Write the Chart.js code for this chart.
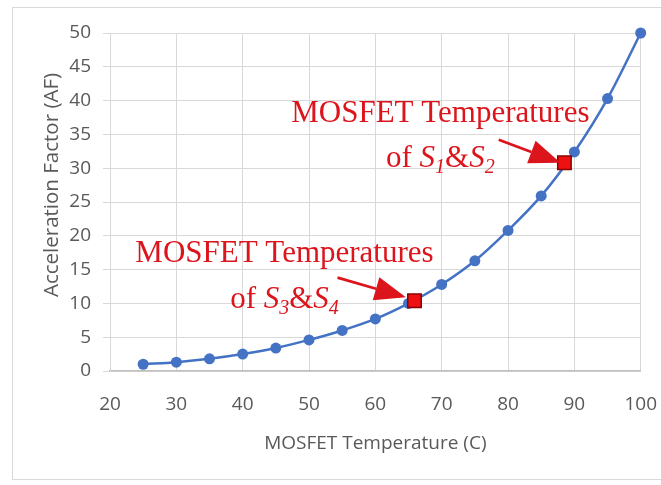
<!DOCTYPE html>
<html>
<head>
<meta charset="utf-8">
<script src="https://cdn.jsdelivr.net/npm/chart.js@4.4.1/dist/chart.umd.min.js"></script>
<style>
  html, body { margin: 0; padding: 0; background: #fff; }
  #wrap { position: relative; width: 661px; height: 485px; }
</style>
</head>
<body>
<div id="wrap"><canvas id="af-chart" width="661" height="485"></canvas></div>
<script>
// temperatures (C) and acceleration factors
const temps = [25, 30, 35, 40, 45, 50, 55, 60, 65, 70, 75, 80, 85, 90, 95, 100];
const afValues = [1.0, 1.3, 1.8, 2.5, 3.4, 4.6, 6.0, 7.7, 10.0, 12.8, 16.3, 20.8, 25.9, 32.4, 40.3, 50.0];

// the two marked MOSFET operating points (S3&S4, S1&S2)
const markTemps = [65.9, 88.5];
const markValues = [10.4, 30.8];

const xTicks = [20, 30, 40, 50, 60, 70, 80, 90, 100];
const yTicks = [0, 5, 10, 15, 20, 25, 30, 35, 40, 45, 50];

const yTitle = "Acceleration Factor (AF)";
const xTitle = "MOSFET Temperature (C)";

const gridColor = "#d9d9d9";
const textGray = "#595959";
const red = "#dc141c";

// annotation blocks, placed in data units
const notes = [
  { x: 69.8, y1: 36.8, y2: 30.2, sub1: "1", sub2: "2",
    arrowFrom: [78.6, 34.2], arrowTo: [87.9, 30.8] },
  { x: 46.3, y1: 16.1, y2: 9.3, sub1: "3", sub2: "4",
    arrowFrom: [54.3, 13.8], arrowTo: [64.6, 10.9] }
];

const annotationPlugin = {
  id: "annotations",
  beforeDraw(chart) {
    const ctx = chart.ctx;
    ctx.save();
    // outer frame
    ctx.strokeStyle = gridColor;
    ctx.lineWidth = 1;
    ctx.strokeRect(12.5, 7.5, 670, 472);
    // y axis title (sits a bit above the axis centre in the original)
    ctx.fillStyle = textGray;
    ctx.font = "20.5px 'Open Sans', sans-serif";
    ctx.textAlign = "center";
    ctx.textBaseline = "middle";
    ctx.translate(52, 185);
    ctx.rotate(-Math.PI / 2);
    ctx.fillText(yTitle, 0, 0);
    ctx.restore();
  },
  afterDatasetsDraw(chart) {
    const ctx = chart.ctx;
    const xs = chart.scales.x, ys = chart.scales.y;
    ctx.save();
    ctx.fillStyle = red;
    ctx.strokeStyle = red;
    ctx.textBaseline = "alphabetic";

    notes.forEach((n) => {
      const cx = xs.getPixelForValue(n.x);

      // first line
      ctx.font = "31px 'Liberation Serif', 'Times New Roman', serif";
      ctx.textAlign = "center";
      ctx.fillText("MOSFET Temperatures", cx, ys.getPixelForValue(n.y1));

      // second line: of S_a&S_b with italic S and subscripts
      const parts = [
        { t: "of ", f: "31px 'Liberation Serif', serif", dy: 0 },
        { t: "S", f: "italic 31px 'Liberation Serif', serif", dy: 0 },
        { t: n.sub1, f: "italic 20px 'Liberation Serif', serif", dy: 6 },
        { t: "&", f: "31px 'Liberation Serif', serif", dy: 0 },
        { t: "S", f: "italic 31px 'Liberation Serif', serif", dy: 0 },
        { t: n.sub2, f: "italic 20px 'Liberation Serif', serif", dy: 6 }
      ];
      let total = 0;
      parts.forEach((p) => { ctx.font = p.f; p.w = ctx.measureText(p.t).width; total += p.w; });
      let px = cx - total / 2;
      const by = ys.getPixelForValue(n.y2);
      ctx.textAlign = "left";
      parts.forEach((p) => {
        ctx.font = p.f;
        ctx.fillText(p.t, px, by + p.dy);
        px += p.w;
      });

      // arrow
      const x0 = xs.getPixelForValue(n.arrowFrom[0]), y0 = ys.getPixelForValue(n.arrowFrom[1]);
      const x1 = xs.getPixelForValue(n.arrowTo[0]), y1 = ys.getPixelForValue(n.arrowTo[1]);
      const ang = Math.atan2(y1 - y0, x1 - x0);
      const headLen = 31, headHalf = 12;
      const bx = x1 - headLen * Math.cos(ang), byy = y1 - headLen * Math.sin(ang);
      ctx.lineWidth = 2.8;
      ctx.beginPath();
      ctx.moveTo(x0, y0);
      ctx.lineTo(bx, byy);
      ctx.stroke();
      ctx.beginPath();
      ctx.moveTo(x1, y1);
      ctx.lineTo(bx + headHalf * Math.sin(ang), byy - headHalf * Math.cos(ang));
      ctx.lineTo(bx - headHalf * Math.sin(ang), byy + headHalf * Math.cos(ang));
      ctx.closePath();
      ctx.fill();
    });
    ctx.restore();
  }
};

const ctx = document.getElementById("af-chart").getContext("2d");

new Chart(ctx, {
  type: "line",
  data: {
    datasets: [
      {
        label: "Marked",
        data: markTemps.map((t, i) => ({ x: t, y: markValues[i] })),
        showLine: false,
        pointStyle: "rect",
        pointRadius: 9.5,
        backgroundColor: "#ee1111",
        borderColor: "#8b0000",
        borderWidth: 1.5,
        clip: false,
        order: 0
      },
      {
        label: "AF",
        data: temps.map((t, i) => ({ x: t, y: afValues[i] })),
        borderColor: "#4472c4",
        backgroundColor: "#4472c4",
        borderWidth: 2.5,
        pointRadius: 5.5,
        pointBorderWidth: 0,
        tension: 0.35,
        clip: false,
        order: 1
      }
    ]
  },
  options: {
    responsive: false,
    animation: false,
    layout: { padding: { left: 20, right: 4, top: 33, bottom: 18 } },
    plugins: {
      legend: { display: false },
      tooltip: { enabled: false }
    },
    scales: {
      x: {
        type: "linear",
        min: 20,
        max: 100,
        afterBuildTicks: (scale) => { scale.ticks = xTicks.map((v) => ({ value: v })); },
        afterFit: (scale) => { scale.height = 96; },
        // invisible tick marks push the labels down without widening the right padding
        grid: { color: gridColor, lineWidth: 1, drawTicks: true, tickLength: 18, tickColor: "rgba(0,0,0,0)" },
        border: { color: "#bfbfbf", width: 1.5 },
        ticks: { color: textGray, font: { family: "'Open Sans', sans-serif", size: 19 }, padding: 4, maxRotation: 0 },
        title: {
          display: true,
          text: xTitle,
          color: textGray,
          font: { family: "'Open Sans', sans-serif", size: 19 },
          padding: { top: 0, bottom: 12 }
        }
      },
      y: {
        type: "linear",
        min: 0,
        max: 50,
        afterBuildTicks: (scale) => { scale.ticks = yTicks.map((v) => ({ value: v })); },
        afterFit: (scale) => { scale.width = 90; },
        grid: { color: gridColor, lineWidth: 1, tickLength: 7 },
        border: { color: gridColor },
        ticks: { color: textGray, font: { family: "'Open Sans', sans-serif", size: 19 }, padding: 12 }
      }
    }
  },
  plugins: [annotationPlugin]
});
</script>
</body>
</html>
